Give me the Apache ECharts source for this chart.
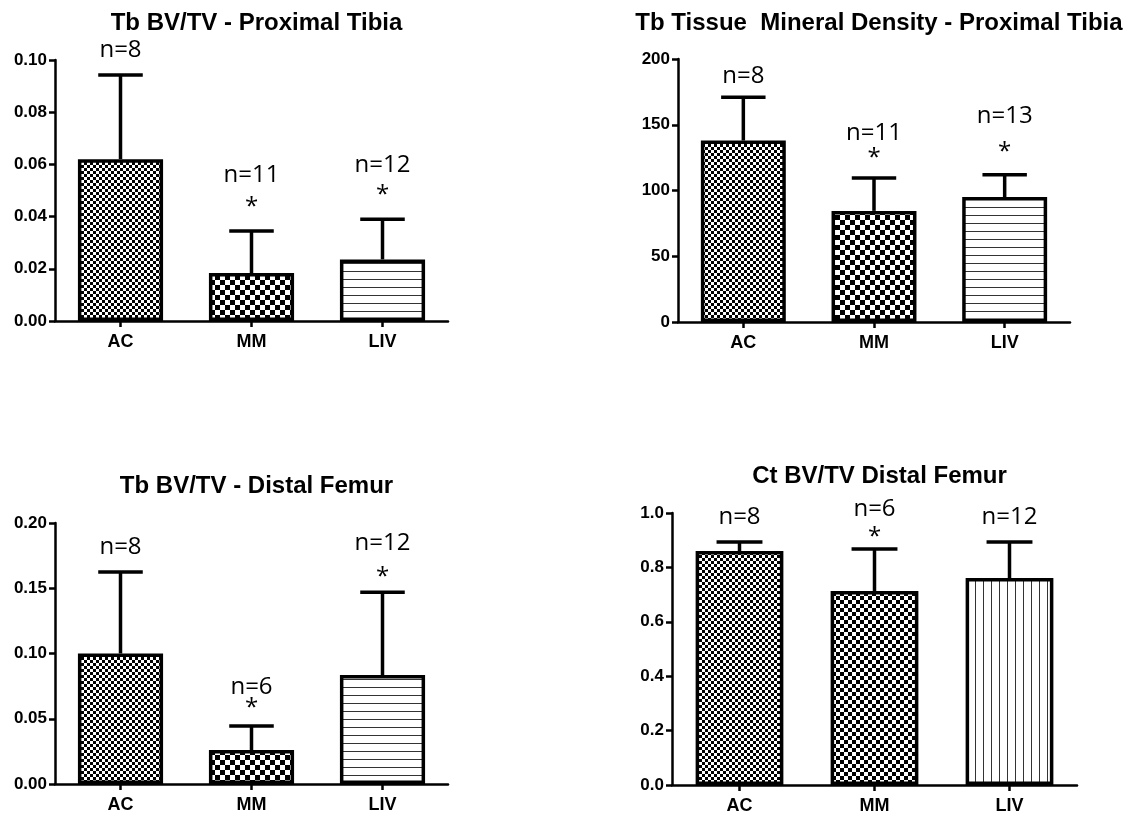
<!DOCTYPE html>
<html>
<head>
<meta charset="utf-8">
<script src="https://cdn.jsdelivr.net/npm/echarts@6/dist/echarts.min.js"></script>
<style>
html,body{margin:0;padding:0;background:#fff;}
#chart{width:1138px;height:822px;}
</style>
</head>
<body>
<div id="chart"></div>
<script>
// ---------------- DATA ----------------
const categories = ['AC', 'MM', 'LIV'];

const titles = [
  'Tb BV/TV - Proximal Tibia',
  'Tb Tissue  Mineral Density - Proximal Tibia',
  'Tb BV/TV - Distal Femur',
  'Ct BV/TV Distal Femur'
];

// Panel 1: Tb BV/TV - Proximal Tibia
const tibiaBvTvMean = [0.062, 0.0184, 0.0236];
const tibiaBvTvErr  = [0.0323, 0.0161, 0.0154];
const tibiaBvTvN    = [8, 11, 12];
const tibiaBvTvSig  = [false, true, true];

// Panel 2: Tb Tissue Mineral Density - Proximal Tibia
const tibiaTmdMean = [138, 84.5, 95];
const tibiaTmdErr  = [33, 25, 17];
const tibiaTmdN    = [8, 11, 13];
const tibiaTmdSig  = [false, true, true];

// Panel 3: Tb BV/TV - Distal Femur
const femurTbMean = [0.100, 0.026, 0.0835];
const femurTbErr  = [0.0625, 0.0185, 0.0635];
const femurTbN    = [8, 6, 12];
const femurTbSig  = [false, true, true];

// Panel 4: Ct BV/TV Distal Femur
const femurCtMean = [0.86, 0.713, 0.761];
const femurCtErr  = [0.033, 0.155, 0.132];
const femurCtN    = [8, 6, 12];
const femurCtSig  = [false, true, false];

// y-axis tick settings
const yMax      = [0.10, 200, 0.20, 1.0];
const yInterval = [0.02, 50, 0.05, 0.2];
const yDecimals = [2, 0, 2, 1];

// ---------------- STYLE / LAYOUT ----------------
const grids = [
  {left: 55,  top: 60,  width: 393, height: 261},
  {left: 678, top: 59,  width: 392, height: 263},
  {left: 55,  top: 523, width: 393, height: 261},
  {left: 672, top: 513, width: 405, height: 272}
];
const titleTops = [6, 6, 469, 459];
// pixel offsets (above error cap) for "n=" text and "*"
const nOffsets    = [[25, 56, 54], [21, 45, 59], [25, 39, 49], [25, 40, 25]];
const starOffsets = [[0, 29, 29], [0, 25, 28], [0, 23, 20], [0, 17, 0]];
const mmCell = [5, 5, 5, 4];

function checker(cell) {
  const c = document.createElement('canvas');
  c.width = c.height = cell * 2;
  const g = c.getContext('2d');
  g.fillStyle = '#fff'; g.fillRect(0, 0, c.width, c.height);
  g.fillStyle = '#000';
  g.fillRect(0, 0, cell, cell);
  g.fillRect(cell, cell, cell, cell);
  return c;
}
function hLines(sp) {
  const c = document.createElement('canvas');
  c.width = 8; c.height = sp;
  const g = c.getContext('2d');
  g.fillStyle = '#fff'; g.fillRect(0, 0, c.width, c.height);
  g.fillStyle = '#333'; g.fillRect(0, sp - 1, c.width, 1);
  return c;
}
function vLines(sp) {
  const c = document.createElement('canvas');
  c.width = sp; c.height = 8;
  const g = c.getContext('2d');
  g.fillStyle = '#fff'; g.fillRect(0, 0, c.width, c.height);
  g.fillStyle = '#333'; g.fillRect(sp - 1, 0, 1, c.height);
  return c;
}

const panels = [
  {mean: tibiaBvTvMean, err: tibiaBvTvErr, n: tibiaBvTvN, sig: tibiaBvTvSig, liv: 'h'},
  {mean: tibiaTmdMean,  err: tibiaTmdErr,  n: tibiaTmdN,  sig: tibiaTmdSig,  liv: 'h'},
  {mean: femurTbMean,   err: femurTbErr,   n: femurTbN,   sig: femurTbSig,   liv: 'h'},
  {mean: femurCtMean,   err: femurCtErr,   n: femurCtN,   sig: femurCtSig,   liv: 'v'}
];

const chart = echarts.init(document.getElementById('chart'), null, {renderer: 'canvas'});

const option = {
  backgroundColor: '#fff',
  animation: false,
  title: titles.map((t, i) => ({
    text: t,
    left: grids[i].left + grids[i].width / 2,
    top: titleTops[i],
    textAlign: 'center',
    textStyle: {fontFamily: 'Liberation Sans', fontWeight: 'bold', fontSize: 24, color: '#000'}
  })),
  grid: grids.map(g => Object.assign({containLabel: false}, g)),
  xAxis: grids.map((g, i) => ({
    type: 'category',
    gridIndex: i,
    data: categories,
    axisLine: {show: true, lineStyle: {color: '#000', width: 2.5}},
    axisTick: {show: true, alignWithLabel: true, length: 6, lineStyle: {color: '#000', width: 2.5}},
    axisLabel: {fontFamily: 'Liberation Sans', fontWeight: 'bold', fontSize: 18, color: '#000', margin: 12},
    splitLine: {show: false}
  })),
  yAxis: grids.map((g, i) => ({
    type: 'value',
    gridIndex: i,
    min: 0,
    max: yMax[i],
    interval: yInterval[i],
    axisLine: {show: true, lineStyle: {color: '#000', width: 2.5}},
    axisTick: {show: true, length: 6, lineStyle: {color: '#000', width: 2.5}},
    axisLabel: {
      fontFamily: 'Liberation Sans', fontWeight: 'bold', fontSize: 17, color: '#000', margin: 8,
      formatter: v => v.toFixed(yDecimals[i])
    },
    splitLine: {show: false}
  })),
  series: []
};

panels.forEach((p, i) => {
  const fills = [
    {image: checker(3), repeat: 'repeat'},
    {image: checker(mmCell[i]), repeat: 'repeat'},
    {image: p.liv === 'h' ? hLines(8) : vLines(8), repeat: 'repeat'}
  ];
  option.series.push({
    type: 'bar',
    xAxisIndex: i, yAxisIndex: i,
    barWidth: '65%',
    z: 3,
    data: p.mean.map((v, k) => ({
      value: v,
      itemStyle: {color: fills[k], borderColor: '#000', borderWidth: 3.5}
    }))
  });
  option.series.push({
    type: 'custom',
    xAxisIndex: i, yAxisIndex: i,
    z: 4,
    clip: false,
    data: p.mean.map((v, k) => [k, v, p.err[k], p.n[k], p.sig[k] ? 1 : 0]),
    renderItem: function (params, api) {
      const k = api.value(0);
      const m = api.value(1);
      const e = api.value(2);
      const base = api.coord([k, m]);
      const top = api.coord([k, m + e]);
      const half = api.size([1, 0])[0] * 0.17;
      const st = {stroke: '#000', lineWidth: 3.5};
      const children = [
        {type: 'line', shape: {x1: top[0], y1: base[1], x2: top[0], y2: top[1]}, style: st},
        {type: 'line', shape: {x1: top[0] - half, y1: top[1], x2: top[0] + half, y2: top[1]}, style: st},
        {type: 'text', style: {
          text: 'n=' + api.value(3), x: top[0], y: top[1] - nOffsets[i][k],
          align: 'center', verticalAlign: 'middle',
          font: '24px "Open Sans"', fill: '#000'
        }}
      ];
      if (api.value(4) === 1) {
        children.push({type: 'text', style: {
          text: '*', x: top[0], y: top[1] - starOffsets[i][k] + 5,
          align: 'center', verticalAlign: 'middle',
          font: '24px "Open Sans"', fill: '#000'
        }});
      }
      return {type: 'group', children: children};
    }
  });
});

chart.setOption(option);
</script>
</body>
</html>
